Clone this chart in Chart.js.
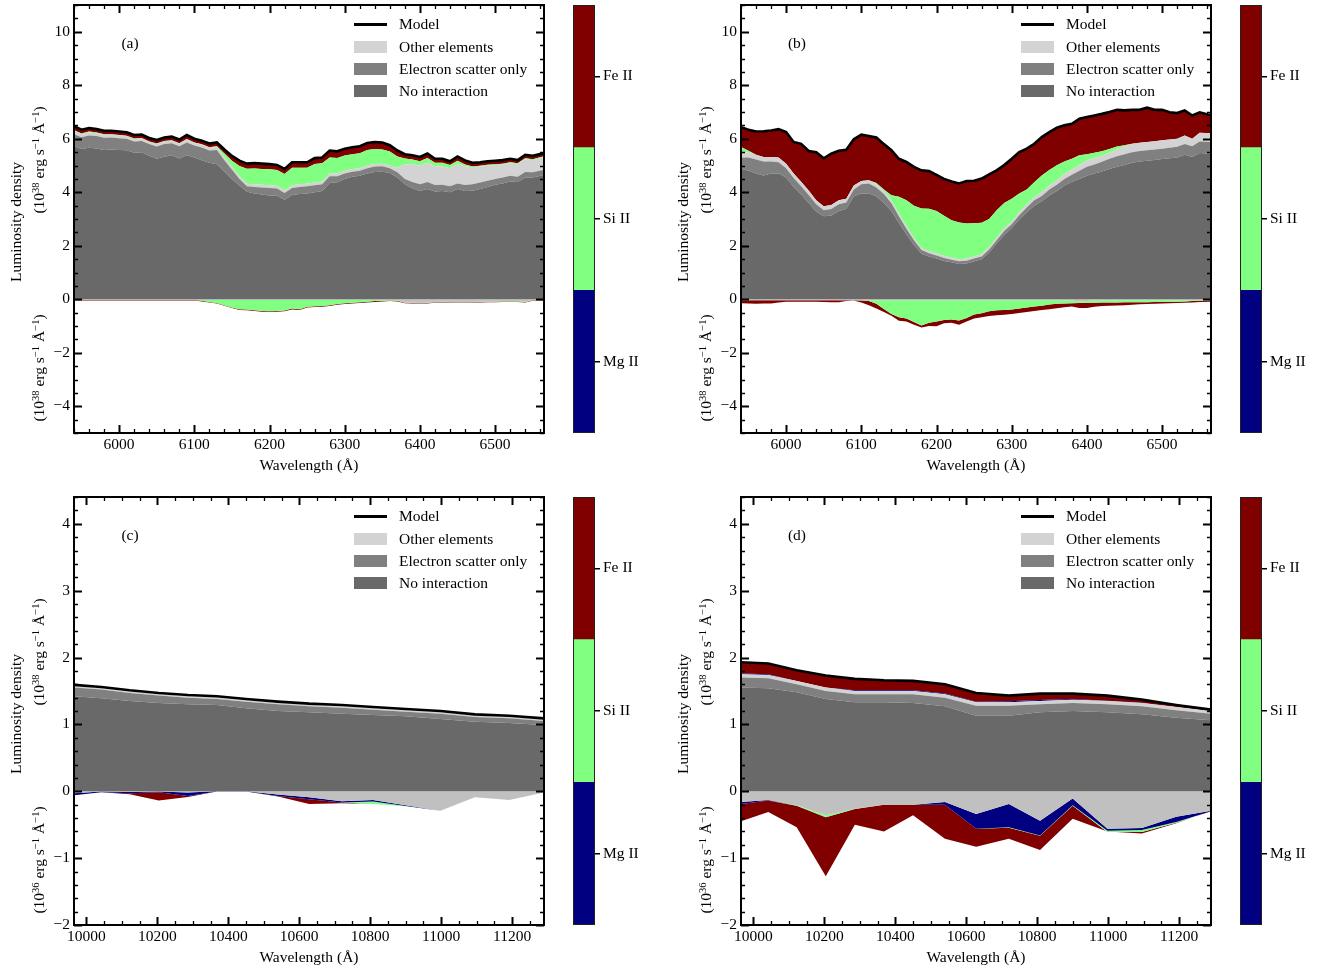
<!DOCTYPE html>
<html>
<head>
<meta charset="utf-8">
<script src="https://cdn.jsdelivr.net/npm/chart.js@4.4.1/dist/chart.umd.min.js"></script>
<style>
  body { margin: 0; background: #fff; width: 1325px; height: 971px; overflow: hidden; position: relative;
         font-family: 'Liberation Serif', 'Times New Roman', serif; color: #000; }
  canvas { position: absolute; }
  .t { position: absolute; white-space: nowrap; font-size: 15.5px; line-height: 1; transform: translate(-50%, -50%); }
  .rot { transform: translate(-50%, -50%) rotate(-90deg); }
  .lt { transform: translate(0, -50%); }
  .t sup { font-size: 0.68em; vertical-align: 0.5em; line-height: 0; }
  .sw { position: absolute; width: 33px; height: 12px; }
</style>
</head>
<body>
<script>
// ---- data (stack edges, cumulative) ----

// panels (a) and (b): wavelength grid in Angstrom
const abWave = [5940, 5950, 5960, 5970, 5980, 5990, 6000, 6010, 6020, 6030, 6040, 6050, 6060, 6070, 6080, 6090,
  6100, 6110, 6120, 6130, 6140, 6150, 6160, 6170, 6180, 6190, 6200, 6210, 6220, 6230, 6240, 6250, 6260, 6270,
  6280, 6290, 6300, 6310, 6320, 6330, 6340, 6350, 6360, 6370, 6380, 6390, 6400, 6410, 6420, 6430, 6440, 6450,
  6460, 6470, 6480, 6490, 6500, 6510, 6520, 6530, 6540, 6550, 6566];

// (a) emission side, 1e38 erg/s/A
const aNoInt = [5.73, 5.62, 5.66, 5.64, 5.58, 5.6, 5.58, 5.57, 5.48, 5.5, 5.36, 5.25, 5.33, 5.38, 5.26, 5.38,
  5.3, 5.2, 5.1, 5.05, 4.78, 4.5, 4.25, 4.02, 3.95, 3.92, 3.88, 3.87, 3.72, 3.9, 3.93, 3.95, 4.0, 4.05,
  4.35, 4.37, 4.5, 4.58, 4.62, 4.7, 4.76, 4.77, 4.72, 4.55, 4.3, 4.15, 4.05, 4.12, 4.03, 4.05, 4.0, 4.12,
  4.05, 4.06, 4.12, 4.2, 4.28, 4.33, 4.4, 4.38, 4.55, 4.55, 4.65];
const aEscat = [6.17, 6.06, 6.12, 6.1, 6.04, 6.05, 6.02, 6.0, 5.9, 5.92, 5.8, 5.71, 5.8, 5.83, 5.72, 5.86,
  5.75, 5.67, 5.56, 5.58, 5.2, 4.85, 4.5, 4.22, 4.2, 4.18, 4.16, 4.14, 3.97, 4.16, 4.2, 4.22, 4.26, 4.3,
  4.6, 4.6, 4.7, 4.77, 4.8, 4.9, 4.96, 4.97, 4.9, 4.75, 4.5, 4.38, 4.3, 4.38, 4.27, 4.28, 4.22, 4.33,
  4.27, 4.3, 4.36, 4.43, 4.5, 4.55, 4.62, 4.58, 4.76, 4.75, 4.85];
const aOther = [6.29, 6.18, 6.24, 6.21, 6.15, 6.16, 6.13, 6.1, 6.0, 6.02, 5.89, 5.81, 5.91, 5.93, 5.82, 5.98,
  5.85, 5.78, 5.67, 5.68, 5.3, 4.95, 4.6, 4.32, 4.3, 4.28, 4.26, 4.24, 4.07, 4.26, 4.3, 4.32, 4.36, 4.4,
  4.7, 4.7, 4.8, 4.87, 4.9, 5.0, 5.06, 5.07, 5.0, 4.92, 5.05, 5.05, 5.0, 5.1, 4.97, 4.96, 4.9, 5.06,
  4.97, 4.93, 4.96, 5.0, 5.02, 5.04, 5.09, 5.05, 5.24, 5.2, 5.32];
const aSi = [6.32, 6.2, 6.27, 6.23, 6.17, 6.17, 6.14, 6.11, 6.01, 6.03, 5.9, 5.82, 5.92, 5.94, 5.83, 5.99,
  5.86, 5.79, 5.68, 5.72, 5.45, 5.18, 4.98, 4.88, 4.89, 4.87, 4.86, 4.83, 4.68, 4.92, 4.92, 4.92, 5.06, 5.08,
  5.3, 5.28, 5.37, 5.42, 5.46, 5.58, 5.62, 5.6, 5.52, 5.34, 5.26, 5.22, 5.16, 5.28, 5.1, 5.1, 5.02, 5.18,
  5.04, 4.96, 4.99, 5.03, 5.05, 5.07, 5.12, 5.08, 5.27, 5.23, 5.35];
const aModel = [6.47, 6.34, 6.4, 6.36, 6.3, 6.3, 6.27, 6.24, 6.14, 6.16, 6.03, 5.95, 6.05, 6.08, 5.97, 6.14,
  6.0, 5.93, 5.82, 5.86, 5.6, 5.36, 5.18, 5.07, 5.09, 5.07, 5.05, 5.02, 4.87, 5.12, 5.12, 5.12, 5.28, 5.3,
  5.56, 5.53, 5.63, 5.68, 5.72, 5.84, 5.88, 5.86, 5.76, 5.56, 5.42, 5.38, 5.32, 5.45, 5.25, 5.25, 5.16, 5.34,
  5.19, 5.1, 5.12, 5.16, 5.18, 5.2, 5.25, 5.2, 5.4, 5.36, 5.47];
// (a) absorption side
const aNegOther = [-0.03, -0.03, -0.03, -0.03, -0.03, -0.03, -0.03, -0.03, -0.03, -0.03, -0.03, -0.03, -0.03, -0.03, -0.03, -0.03,
  -0.03, -0.03, -0.03, -0.03, -0.03, -0.03, -0.03, -0.03, -0.03, -0.03, -0.03, -0.03, -0.03, -0.03, -0.03, -0.03, -0.03, -0.03,
  -0.03, -0.03, -0.03, -0.03, -0.03, -0.03, -0.03, -0.03, -0.03, -0.03, -0.12, -0.13, -0.14, -0.13, -0.1, -0.09, -0.1, -0.11,
  -0.11, -0.1, -0.09, -0.08, -0.08, -0.07, -0.07, -0.07, -0.08, -0.03, -0.02];
const aNegSi = [-0.03, -0.03, -0.03, -0.03, -0.03, -0.03, -0.03, -0.03, -0.03, -0.03, -0.03, -0.03, -0.03, -0.03, -0.03, -0.03,
  -0.03, -0.06, -0.1, -0.14, -0.22, -0.31, -0.37, -0.38, -0.41, -0.44, -0.45, -0.44, -0.42, -0.35, -0.37, -0.28, -0.26, -0.25,
  -0.22, -0.18, -0.15, -0.13, -0.11, -0.09, -0.07, -0.06, -0.05, -0.06, -0.13, -0.14, -0.15, -0.14, -0.11, -0.1, -0.11, -0.12,
  -0.12, -0.11, -0.1, -0.09, -0.09, -0.08, -0.08, -0.08, -0.1, -0.04, -0.03];
const aNegFe = [-0.05, -0.05, -0.05, -0.05, -0.05, -0.05, -0.05, -0.05, -0.05, -0.05, -0.05, -0.05, -0.05, -0.05, -0.05, -0.05,
  -0.05, -0.08, -0.12, -0.16, -0.24, -0.33, -0.4, -0.41, -0.44, -0.47, -0.48, -0.47, -0.45, -0.38, -0.4, -0.31, -0.29, -0.28,
  -0.25, -0.21, -0.18, -0.16, -0.14, -0.12, -0.1, -0.08, -0.07, -0.08, -0.15, -0.16, -0.17, -0.16, -0.13, -0.12, -0.13, -0.14,
  -0.14, -0.13, -0.12, -0.11, -0.11, -0.1, -0.1, -0.1, -0.12, -0.06, -0.05];

// (b) emission side
const bNoInt = [4.88, 4.8, 4.7, 4.63, 4.7, 4.7, 4.55, 4.2, 3.92, 3.6, 3.28, 3.1, 3.13, 3.3, 3.38, 3.85,
  3.95, 3.95, 3.85, 3.6, 3.3, 2.85, 2.43, 2.03, 1.7, 1.6, 1.52, 1.43, 1.38, 1.32, 1.34, 1.42, 1.5, 1.75,
  2.08, 2.4, 2.66, 2.98, 3.25, 3.5, 3.66, 3.88, 4.05, 4.25, 4.38, 4.5, 4.62, 4.7, 4.78, 4.87, 4.95, 5.02,
  5.1, 5.15, 5.18, 5.21, 5.24, 5.27, 5.3, 5.4, 5.32, 5.47, 5.44];
const bEscat = [5.3, 5.3, 5.22, 5.15, 5.15, 5.12, 4.9, 4.53, 4.22, 3.9, 3.55, 3.33, 3.37, 3.55, 3.62, 4.1,
  4.3, 4.33, 4.18, 3.93, 3.59, 3.1, 2.64, 2.21, 1.84, 1.72, 1.64, 1.54, 1.48, 1.42, 1.44, 1.52, 1.6, 1.86,
  2.21, 2.55, 2.8, 3.14, 3.43, 3.7, 3.86, 4.1, 4.28, 4.5, 4.65, 4.8, 4.95, 5.04, 5.14, 5.25, 5.35, 5.42,
  5.5, 5.54, 5.57, 5.6, 5.63, 5.66, 5.7, 5.8, 5.72, 5.9, 5.88];
const bOther = [5.5, 5.5, 5.4, 5.32, 5.32, 5.3, 5.07, 4.7, 4.39, 4.07, 3.7, 3.48, 3.52, 3.7, 3.76, 4.25,
  4.42, 4.45, 4.3, 4.05, 3.7, 3.2, 2.73, 2.3, 1.92, 1.8, 1.72, 1.62, 1.56, 1.5, 1.52, 1.6, 1.68, 1.95,
  2.3, 2.65, 2.9, 3.25, 3.55, 3.82, 4.0, 4.25, 4.45, 4.68, 4.85, 5.02, 5.2, 5.28, 5.36, 5.48, 5.6, 5.72,
  5.81, 5.85, 5.88, 5.91, 5.94, 5.97, 6.0, 6.12, 6.0, 6.22, 6.2];
const bSi = [5.69, 5.55, 5.4, 5.32, 5.32, 5.3, 5.07, 4.7, 4.39, 4.07, 3.7, 3.48, 3.52, 3.7, 3.76, 4.25,
  4.42, 4.45, 4.35, 4.1, 3.89, 3.83, 3.7, 3.5, 3.39, 3.38, 3.3, 3.12, 2.95, 2.87, 2.83, 2.84, 2.86, 3.0,
  3.33, 3.6, 3.76, 3.95, 4.1, 4.37, 4.63, 4.83, 5.01, 5.15, 5.25, 5.38, 5.42, 5.48, 5.53, 5.62, 5.71, 5.76,
  5.81, 5.85, 5.88, 5.91, 5.94, 5.97, 6.0, 6.12, 6.0, 6.22, 6.2];
const bModel = [6.43, 6.34, 6.27, 6.28, 6.31, 6.36, 6.25, 5.88, 5.81, 5.54, 5.5, 5.27, 5.44, 5.55, 5.59, 5.98,
  6.15, 6.1, 6.05, 5.8, 5.57, 5.25, 5.13, 4.95, 4.82, 4.79, 4.65, 4.5, 4.4, 4.33, 4.42, 4.43, 4.51, 4.67,
  4.82, 5.02, 5.25, 5.5, 5.63, 5.81, 6.06, 6.25, 6.41, 6.5, 6.56, 6.75, 6.81, 6.87, 6.93, 7.0, 7.08, 7.06,
  7.08, 7.08, 7.16, 7.08, 7.08, 6.99, 6.96, 7.06, 6.87, 6.99, 6.87];
// (b) absorption side
const bNegOther = [-0.04, -0.04, -0.04, -0.04, -0.04, -0.04, -0.04, -0.04, -0.04, -0.04, -0.04, -0.04, -0.04, -0.04, -0.04, -0.04,
  -0.04, -0.04, -0.04, -0.04, -0.04, -0.04, -0.04, -0.04, -0.04, -0.04, -0.04, -0.04, -0.04, -0.04, -0.04, -0.04, -0.04, -0.04,
  -0.04, -0.04, -0.04, -0.04, -0.04, -0.04, -0.04, -0.04, -0.04, -0.04, -0.05, -0.08, -0.07, -0.04, -0.04, -0.04, -0.04, -0.04,
  -0.04, -0.04, -0.04, -0.04, -0.04, -0.04, -0.04, -0.04, -0.04, -0.04, -0.04];
const bNegSi = [-0.04, -0.04, -0.04, -0.04, -0.04, -0.04, -0.04, -0.04, -0.04, -0.04, -0.04, -0.04, -0.04, -0.04, -0.04, -0.04,
  -0.05, -0.07, -0.17, -0.36, -0.55, -0.67, -0.72, -0.85, -0.98, -0.88, -0.83, -0.78, -0.76, -0.79, -0.7, -0.57, -0.52, -0.45,
  -0.41, -0.4, -0.38, -0.35, -0.31, -0.27, -0.24, -0.2, -0.17, -0.16, -0.15, -0.14, -0.13, -0.13, -0.12, -0.12, -0.12, -0.11,
  -0.11, -0.11, -0.11, -0.1, -0.1, -0.1, -0.09, -0.08, -0.07, -0.06, -0.05];
const bNegFe = [-0.15, -0.16, -0.17, -0.16, -0.16, -0.12, -0.09, -0.09, -0.09, -0.09, -0.09, -0.1, -0.11, -0.11, -0.07, -0.045,
  -0.12, -0.22, -0.35, -0.48, -0.62, -0.8, -0.83, -0.95, -1.06, -1.0, -1.01, -0.9, -0.88, -0.95, -0.83, -0.72, -0.67, -0.63,
  -0.6, -0.58, -0.55, -0.51, -0.48, -0.44, -0.4, -0.37, -0.34, -0.3, -0.27, -0.33, -0.33, -0.28, -0.25, -0.24, -0.23, -0.22,
  -0.21, -0.19, -0.18, -0.17, -0.16, -0.15, -0.14, -0.13, -0.12, -0.1, -0.09];

// panels (c) and (d): coarse wavelength grid
const cdWave = [9965, 10042, 10122, 10204, 10286, 10368, 10450, 10540, 10628, 10720, 10808, 10900, 10998, 11095, 11192, 11290];

// (c) emission side, 1e38; absorption side, 1e36
const cNoInt = [1.42, 1.39, 1.35, 1.32, 1.3, 1.29, 1.24, 1.2, 1.18, 1.16, 1.14, 1.12, 1.08, 1.04, 1.02, 0.99];
const cEscat = [1.55, 1.52, 1.47, 1.43, 1.4, 1.38, 1.34, 1.3, 1.27, 1.25, 1.22, 1.19, 1.16, 1.11, 1.09, 1.05];
const cOther = [1.575, 1.545, 1.495, 1.455, 1.425, 1.405, 1.365, 1.325, 1.295, 1.275, 1.245, 1.215, 1.185, 1.135, 1.115, 1.075];
const cModel = [1.59, 1.56, 1.51, 1.47, 1.44, 1.42, 1.38, 1.34, 1.31, 1.29, 1.26, 1.23, 1.2, 1.15, 1.13, 1.09];
const cNegOther = [-0.03, -0.005, -0.01, -0.005, -0.02, 0, 0, -0.05, -0.09, -0.15, -0.13, -0.21, -0.29, -0.09, -0.13, -0.02];
const cNegMg = [-0.06, -0.015, -0.03, -0.015, -0.07, -0.005, -0.005, -0.07, -0.12, -0.17, -0.155, -0.22, -0.29, -0.09, -0.13, -0.02];
const cNegSi = [-0.06, -0.015, -0.03, -0.015, -0.07, -0.005, -0.005, -0.07, -0.12, -0.17, -0.19, -0.225, -0.29, -0.09, -0.13, -0.02];
const cNegFe = [-0.06, -0.015, -0.045, -0.14, -0.085, -0.005, -0.005, -0.08, -0.19, -0.18, -0.19, -0.225, -0.29, -0.09, -0.13, -0.02];

// (d)
const dNoInt = [1.55, 1.54, 1.48, 1.38, 1.33, 1.33, 1.32, 1.27, 1.13, 1.13, 1.18, 1.2, 1.18, 1.15, 1.1, 1.06];
const dEscat = [1.7, 1.69, 1.6, 1.5, 1.45, 1.45, 1.45, 1.4, 1.28, 1.28, 1.3, 1.32, 1.3, 1.27, 1.21, 1.16];
const dOther = [1.75, 1.74, 1.65, 1.55, 1.5, 1.5, 1.5, 1.45, 1.33, 1.33, 1.35, 1.37, 1.35, 1.32, 1.26, 1.2];
const dMg = [1.76, 1.75, 1.65, 1.55, 1.51, 1.51, 1.51, 1.46, 1.34, 1.345, 1.365, 1.38, 1.355, 1.325, 1.26, 1.2];
const dModel = [1.93, 1.91, 1.81, 1.73, 1.68, 1.66, 1.65, 1.6, 1.47, 1.43, 1.46, 1.46, 1.43, 1.37, 1.29, 1.22];
const dNegOther = [-0.16, -0.13, -0.21, -0.36, -0.26, -0.2, -0.2, -0.16, -0.34, -0.19, -0.44, -0.11, -0.56, -0.55, -0.38, -0.29];
const dNegMg = [-0.19, -0.14, -0.21, -0.36, -0.26, -0.2, -0.2, -0.2, -0.56, -0.54, -0.66, -0.21, -0.59, -0.58, -0.46, -0.3];
const dNegSi = [-0.19, -0.14, -0.215, -0.39, -0.265, -0.2, -0.2, -0.2, -0.56, -0.545, -0.665, -0.215, -0.61, -0.61, -0.47, -0.3];
const dNegFe = [-0.45, -0.31, -0.54, -1.27, -0.5, -0.6, -0.36, -0.71, -0.83, -0.71, -0.88, -0.41, -0.6, -0.63, -0.48, -0.29];

// axis ticks
const abXTicks = [6000, 6100, 6200, 6300, 6400, 6500];
const abYTicks = [-4, -2, 0, 2, 4, 6, 8, 10];
const cdXTicks = [10000, 10200, 10400, 10600, 10800, 11000, 11200];
const cdYTicks = [-2, -1, 0, 1, 2, 3, 4];

const legendLabels = ['Model', 'Other elements', 'Electron scatter only', 'No interaction'];
const ionNames = ['Mg II', 'Si II', 'Fe II'];

// ---- styling ----
const C = {
  noInt: '#696969', escat: '#808080', other: '#d3d3d3', otherAbs: '#c0c0c0',
  mg: '#000080', si: '#80ff80', fe: '#800000'
};
const ionColors = [C.mg, C.si, C.fe];
const FONT = { family: "'Liberation Serif', 'Times New Roman', serif", size: 15.5 };
Chart.defaults.font.family = FONT.family;
Chart.defaults.font.size = FONT.size;
Chart.defaults.color = '#000';

const panels = [
  { tag: '(a)', left: 74, top: 5, wave: abWave, xMin: 5940, xMax: 6565, xTicks: abXTicks, xMinor: 20,
    yMin: -5, yMax: 11, yTicks: abYTicks, yMinor: 0.5, lowExp: '38', model: aModel,
    up: [[aNoInt, C.noInt], [aEscat, C.escat], [aOther, C.other], [aSi, C.si], [aModel, C.fe]],
    down: [[aNegOther, C.otherAbs], [aNegSi, C.si], [aNegFe, C.fe]] },
  { tag: '(b)', left: 741, top: 5, wave: abWave, xMin: 5940, xMax: 6565, xTicks: abXTicks, xMinor: 20,
    yMin: -5, yMax: 11, yTicks: abYTicks, yMinor: 0.5, lowExp: '38', model: bModel,
    up: [[bNoInt, C.noInt], [bEscat, C.escat], [bOther, C.other], [bSi, C.si], [bModel, C.fe]],
    down: [[bNegOther, C.otherAbs], [bNegSi, C.si], [bNegFe, C.fe]] },
  { tag: '(c)', left: 74, top: 497, wave: cdWave, xMin: 9965, xMax: 11290, xTicks: cdXTicks, xMinor: 50,
    yMin: -2, yMax: 4.4, yTicks: cdYTicks, yMinor: 0.2, lowExp: '36', model: cModel,
    up: [[cNoInt, C.noInt], [cEscat, C.escat], [cOther, C.other]],
    down: [[cNegOther, C.otherAbs], [cNegMg, C.mg], [cNegSi, C.si], [cNegFe, C.fe]] },
  { tag: '(d)', left: 741, top: 497, wave: cdWave, xMin: 9965, xMax: 11290, xTicks: cdXTicks, xMinor: 50,
    yMin: -2, yMax: 4.4, yTicks: cdYTicks, yMinor: 0.2, lowExp: '36', model: dModel,
    up: [[dNoInt, C.noInt], [dEscat, C.escat], [dOther, C.other], [dMg, C.mg], [dModel, C.fe]],
    down: [[dNegOther, C.otherAbs], [dNegMg, C.mg], [dNegSi, C.si], [dNegFe, C.fe]] }
];

// inward major/minor ticks on all four sides plus the black frame
const frameTicks = {
  id: 'frameTicks',
  afterDraw(chart, args, o) {
    const { ctx, chartArea: a, scales: { x, y } } = chart;
    const minors = (s, step) => {
      const out = [];
      for (let k = Math.ceil(s.min / step - 1e-9); k * step <= s.max + 1e-9; k++) {
        const v = k * step;
        if (!s.ticks.some(t => Math.abs(t.value - v) < 1e-6)) out.push(v);
      }
      return out;
    };
    ctx.save();
    ctx.strokeStyle = '#000';
    const vert = (vals, len, w) => {
      ctx.lineWidth = w;
      ctx.beginPath();
      vals.forEach(v => {
        const px = Math.round(x.getPixelForValue(v)) + 0.5;
        ctx.moveTo(px, a.bottom); ctx.lineTo(px, a.bottom - len);
        ctx.moveTo(px, a.top); ctx.lineTo(px, a.top + len);
      });
      ctx.stroke();
    };
    const horiz = (vals, len, w) => {
      ctx.lineWidth = w;
      ctx.beginPath();
      vals.forEach(v => {
        const py = Math.round(y.getPixelForValue(v)) + 0.5;
        ctx.moveTo(a.left, py); ctx.lineTo(a.left + len, py);
        ctx.moveTo(a.right, py); ctx.lineTo(a.right - len, py);
      });
      ctx.stroke();
    };
    vert(x.ticks.map(t => t.value), 8, 2);
    vert(minors(x, o.xMinor), 4, 1.3);
    horiz(y.ticks.map(t => t.value), 8, 2);
    horiz(minors(y, o.yMinor), 4, 1.3);
    ctx.lineWidth = 2;
    ctx.strokeRect(a.left, a.top, a.width, a.height);
    ctx.restore();
  }
};

const cbFrame = {
  id: 'cbFrame',
  afterDraw(chart) {
    const { ctx, chartArea: a } = chart;
    ctx.save();
    ctx.strokeStyle = '#222';
    ctx.lineWidth = 1;
    ctx.strokeRect(a.left + 0.5, a.top + 0.5, a.width - 1, a.height - 1);
    ctx.restore();
  }
};

// fixed axis box sizes, no label overhang padding
const fixBox = (w, h) => s => {
  if (w != null) s.width = w;
  if (h != null) s.height = h;
  s.paddingTop = 0; s.paddingBottom = 0; s.paddingLeft = 0; s.paddingRight = 0;
};

function makeCanvas(x, y, w, h) {
  const c = document.createElement('canvas');
  c.width = w; c.height = h;
  c.style.left = x + 'px'; c.style.top = y + 'px';
  c.style.width = w + 'px'; c.style.height = h + 'px';
  document.body.appendChild(c);
  return c;
}

function addText(html, x, y, cls) {
  const d = document.createElement('div');
  d.className = 't ' + (cls || '');
  d.style.left = x + 'px'; d.style.top = y + 'px';
  d.innerHTML = html;
  document.body.appendChild(d);
}

function addBox(x, y, w, h, color) {
  const d = document.createElement('div');
  d.className = 'sw';
  d.style.left = x + 'px'; d.style.top = y + 'px';
  d.style.width = w + 'px'; d.style.height = h + 'px';
  d.style.background = color;
  document.body.appendChild(d);
}

const pts = (wave, vals) => wave.map((w, i) => ({ x: w, y: vals[i] }));
const fmt = v => (v < 0 ? '\u2212' + Math.abs(v) : String(v));

function area(wave, layer, fill) {
  return { data: pts(wave, layer[0]), backgroundColor: layer[1], borderColor: 'rgba(0,0,0,0)',
    borderWidth: 0, pointRadius: 0, tension: 0, fill };
}

function drawPanel(p) {
  const canvas = makeCanvas(p.left - 74, p.top - 5, 560, 480);
  const datasets = [];
  p.up.forEach((layer, k) => datasets.push(area(p.wave, layer, k === 0 ? 'origin' : '-1')));
  p.down.forEach((layer, k) => datasets.push(area(p.wave, layer, k === 0 ? 'origin' : '-1')));
  datasets.push({ data: pts(p.wave, p.model), borderColor: '#000', borderWidth: 2.6,
    pointRadius: 0, tension: 0, fill: false, order: -1 });

  new Chart(canvas, {
    type: 'line',
    data: { datasets },
    options: {
      responsive: false, animation: false, devicePixelRatio: 1, events: [],
      layout: { padding: { left: 0, right: 16, top: 5, bottom: 0 } },
      plugins: { legend: { display: false }, tooltip: { enabled: false },
                 frameTicks: { xMinor: p.xMinor, yMinor: p.yMinor } },
      scales: {
        x: { type: 'linear', min: p.xMin, max: p.xMax,
             afterBuildTicks: s => { s.ticks = p.xTicks.map(v => ({ value: v })); },
             afterFit: fixBox(null, 47),
             grid: { display: false, drawTicks: false }, border: { display: false },
             ticks: { padding: 3, maxRotation: 0, autoSkip: false, callback: v => String(v) } },
        y: { type: 'linear', min: p.yMin, max: p.yMax,
             afterBuildTicks: s => { s.ticks = p.yTicks.map(v => ({ value: v })); },
             afterFit: fixBox(74, null),
             grid: { display: false, drawTicks: false }, border: { display: false },
             ticks: { padding: 4, autoSkip: false, callback: fmt } }
      }
    },
    plugins: [frameTicks]
  });

  // colour bar of the ions
  const cb = makeCanvas(p.left + 486, p.top - 5, 100, 480);
  new Chart(cb, {
    type: 'bar',
    data: { labels: ['ion'], datasets: ionColors.map(c => ({ data: [1], backgroundColor: c, borderWidth: 0,
      barPercentage: 1, categoryPercentage: 1 })) },
    options: {
      responsive: false, animation: false, devicePixelRatio: 1, events: [],
      layout: { padding: { left: 13, right: 0, top: 5, bottom: 47 } },
      plugins: { legend: { display: false }, tooltip: { enabled: false } },
      scales: {
        x: { display: false, stacked: true },
        y: { position: 'right', stacked: true, min: 0, max: 3,
             afterBuildTicks: s => { s.ticks = [0.5, 1.5, 2.5].map(v => ({ value: v })); },
             afterFit: fixBox(65, null),
             grid: { display: true, drawOnChartArea: false, drawTicks: true, tickLength: 5, color: '#000', lineWidth: 1.5 },
             border: { display: false },
             ticks: { padding: 3, callback: (v, i) => ionNames[i] } }
      }
    },
    plugins: [cbFrame]
  });

  // labels
  const unit = e => '(10<sup>' + e + '</sup> erg s<sup>\u22121</sup> \u00c5<sup>\u22121</sup>)';
  addText('Luminosity density', p.left - 58, p.top + 217, 'rot');
  addText(unit('38'), p.left - 35, p.top + 155, 'rot');
  addText(unit(p.lowExp), p.left - 35, p.top + 363, 'rot');
  addText('Wavelength (\u00c5)', p.left + 235, p.top + 460);
  addText(p.tag, p.left + 56, p.top + 38);

  // legend
  const rows = [19, 42, 64, 86];
  addBox(p.left + 280, p.top + rows[0] - 1.5, 33, 3, '#000');
  [C.other, C.escat, C.noInt].forEach((c, i) => addBox(p.left + 280, p.top + rows[i + 1] - 6, 33, 12, c));
  legendLabels.forEach((s, i) => addText(s, p.left + 325, p.top + rows[i], 'lt'));
}

panels.forEach(drawPanel);
</script>
</body>
</html>
